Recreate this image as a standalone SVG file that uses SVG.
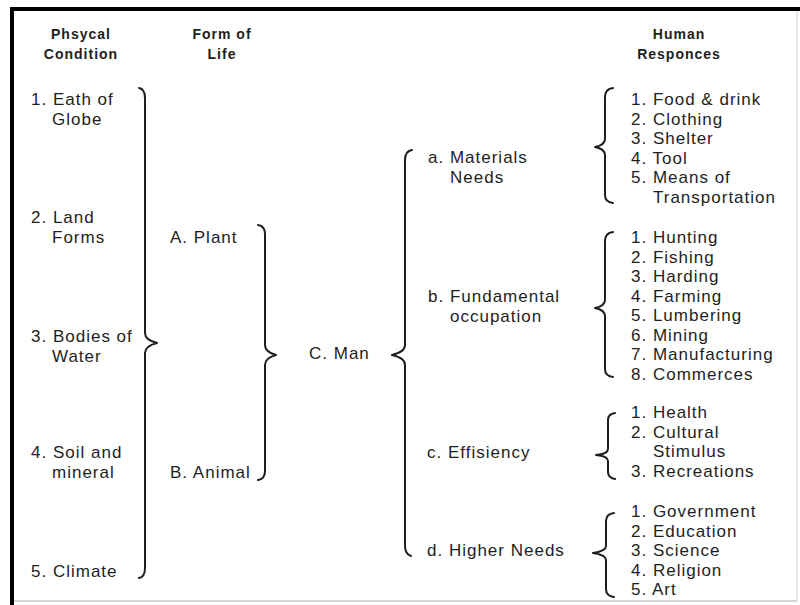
<svg xmlns="http://www.w3.org/2000/svg" width="800" height="605" viewBox="0 0 800 605">
<style>
text{font-family:"Liberation Sans",Arial,sans-serif;fill:#1e1e1e}
.h{font-size:14px;font-weight:bold;letter-spacing:1px;text-anchor:middle}
.t{font-size:17px;letter-spacing:1px}
.br{fill:none;stroke:#1e1e1e;stroke-width:2;stroke-linecap:round;stroke-linejoin:round}
</style>
<rect x="0" y="0" width="800" height="605" fill="#ffffff"/>
<g id="frame">
<line x1="12" y1="9" x2="800" y2="9" stroke="#000" stroke-width="4"/>
<line x1="12" y1="7" x2="12" y2="605" stroke="#000" stroke-width="4"/>
<line x1="14" y1="601" x2="797" y2="601" stroke="#c8c8c8" stroke-width="1.5"/>
<line x1="797" y1="11" x2="797" y2="601" stroke="#e0e0e0" stroke-width="1.5"/>
</g>
<g id="headers">
<text class="h" x="81" y="39">Phsycal</text>
<text class="h" x="81" y="59">Condition</text>
<text class="h" x="222" y="39">Form of</text>
<text class="h" x="222" y="59">Life</text>
<text class="h" x="679" y="39">Human</text>
<text class="h" x="679" y="59">Responces</text>
</g>
<g id="connectors">
<path class="br" d="M139,88 Q145,89 145,98 L145,333 Q145,340 157,343 Q145,346 145,353 L145,568 Q145,577 139,578"/>
<path class="br" d="M258,225 Q265,226 265,234 L265,345 Q265,352 276,355 Q265,358 265,365 L265,471 Q265,479 258,480"/>
<path class="br" d="M412,150 Q405,151 405,160 L405,345 Q405,352 392,355 Q405,358 405,365 L405,546 Q405,554 411,556"/>
<path class="br" d="M613,88 Q605,89 605,97 L605,139 Q605,145 595,147 Q605,149 605,155 L605,195 Q605,202 613,203"/>
<path class="br" d="M613,232 Q605,233 605,241 L605,300 Q605,306 595,308 Q605,310 605,316 L605,369 Q605,376 613,377"/>
<path class="br" d="M615,413 Q608,414 608,420 L608,449 Q608,454 596,455 Q608,456 608,461 L608,472 Q608,478 615,479"/>
<path class="br" d="M614,513 Q606,514 606,521 L606,546 Q606,551 593,553 Q606,555 606,560 L606,589 Q606,596 614,597"/>
</g>
<g id="p1"><text class="t" x="31" y="105">1. Eath of</text><text class="t" x="52" y="125">Globe</text></g>
<g id="p2"><text class="t" x="31" y="223">2. Land</text><text class="t" x="52" y="243">Forms</text></g>
<g id="p3"><text class="t" x="31" y="342">3. Bodies of</text><text class="t" x="52" y="362">Water</text></g>
<g id="p4"><text class="t" x="31" y="458">4. Soil and</text><text class="t" x="52" y="478">mineral</text></g>
<g id="p5"><text class="t" x="31" y="577">5. Climate</text></g>
<g id="lifeA"><text class="t" x="170" y="243">A. Plant</text></g>
<g id="lifeB"><text class="t" x="170" y="478">B. Animal</text></g>
<g id="man"><text class="t" x="309" y="359">C. Man</text></g>
<g id="needA"><text class="t" x="428" y="163">a. Materials</text><text class="t" x="450" y="183">Needs</text></g>
<g id="needB"><text class="t" x="428" y="302">b. Fundamental</text><text class="t" x="450" y="322">occupation</text></g>
<g id="needC"><text class="t" x="427" y="458">c. Effisiency</text></g>
<g id="needD"><text class="t" x="427" y="556">d. Higher Needs</text></g>
<g id="respA">
<text class="t" x="631" y="105">1. Food &amp; drink</text>
<text class="t" x="631" y="124.5">2. Clothing</text>
<text class="t" x="631" y="144">3. Shelter</text>
<text class="t" x="631" y="163.5">4. Tool</text>
<text class="t" x="631" y="183">5. Means of</text>
<text class="t" x="653" y="202.5">Transportation</text>
</g>
<g id="respB">
<text class="t" x="631" y="243">1. Hunting</text>
<text class="t" x="631" y="262.5">2. Fishing</text>
<text class="t" x="631" y="282">3. Harding</text>
<text class="t" x="631" y="301.5">4. Farming</text>
<text class="t" x="631" y="321">5. Lumbering</text>
<text class="t" x="631" y="340.5">6. Mining</text>
<text class="t" x="631" y="360">7. Manufacturing</text>
<text class="t" x="631" y="379.5">8. Commerces</text>
</g>
<g id="respC">
<text class="t" x="631" y="418">1. Health</text>
<text class="t" x="631" y="437.5">2. Cultural</text>
<text class="t" x="653" y="457">Stimulus</text>
<text class="t" x="631" y="476.5">3. Recreations</text>
</g>
<g id="respD">
<text class="t" x="631" y="517">1. Government</text>
<text class="t" x="631" y="536.5">2. Education</text>
<text class="t" x="631" y="556">3. Science</text>
<text class="t" x="631" y="575.5">4. Religion</text>
<text class="t" x="631" y="595">5. Art</text>
</g>
</svg>
